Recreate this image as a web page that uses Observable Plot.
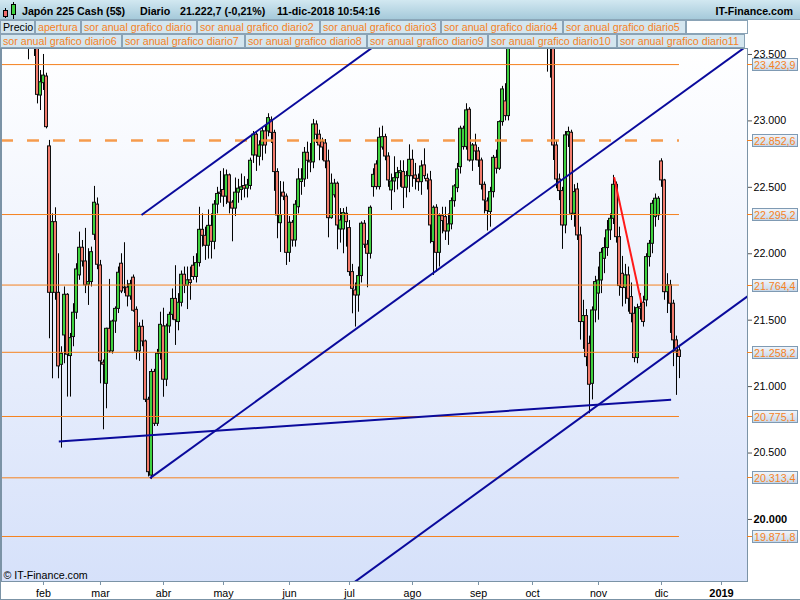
<!DOCTYPE html>
<html><head><meta charset="utf-8">
<script src="https://cdn.jsdelivr.net/npm/d3@7"></script>
<script src="https://cdn.jsdelivr.net/npm/@observablehq/plot@0.6"></script>
<style>
body{margin:0;background:#fff;font-family:"Liberation Sans",Arial,sans-serif;}
#wrap{position:relative;width:800px;height:600px;overflow:hidden;}
#wrap svg{display:block;}
</style></head><body><div id="wrap"></div>
<script>
// ---------- data ----------
const headerTexts = ["Japón 225 Cash (5$)", "Diario", "21.222,7 (-0,21%)", "11-dic-2018 10:54:16"];
const siteName = "IT-Finance.com";
const copyright = "© IT-Finance.com";
const legendRow1 = ["Precio","apertura","sor anual grafico diario","sor anual grafico diario2","sor anual grafico diario3","sor anual grafico diario4","sor anual grafico diario5",""];
const legendRow2 = ["sor anual grafico diario6","sor anual grafico diario7","sor anual grafico diario8","sor anual grafico diario9","sor anual grafico diario10","sor anual grafico diario11"];

const monthTicks = [19,38,59,79,101,121,142,164,182,204,225,245];
const monthLabels = ["feb","mar","abr","may","jun","jul","ago","sep","oct","nov","dic","2019"];
const priceTicks = [20000,20500,21000,21500,22000,22500,23000,23500];
const levelValues = [23423.9, 22295.2, 21764.4, 21258.2, 20775.1, 20313.4, 19871.8];
const dashedLevel = 22852.6;

// trend lines, in (trading-day index, price)
const blueLines = [
  {x1: 51.67, y1: 22292, x2: 128.67, y2: 23553},
  {x1: 54.5,  y1: 20311, x2: 253.67, y2: 23568},
  {x1: 120,   y1: 19485, x2: 253.67, y2: 21679},
  {x1: 24.1,  y1: 20587, x2: 228.2,  y2: 20901}
];
const redLines = [{x1: 209.2, y1: 22577, x2: 218.3, y2: 21630}];

// daily candles [open, high, low, close], first one at trading-day index 5
const firstIndex = 5;
const ohlc = [
[23700,23800,23620,23720],[23720,23830,23680,23760],[23760,24000,23700,23900],[23900,23950,23700,23800],
[23800,23900,23650,23780],[23780,23900,23700,23830],[23830,23900,23750,23850],[23850,24150,23820,24050],
[24050,24100,23850,23900],[23900,23950,23460,23650],[23650,23800,23600,23700],[23700,23750,23485,23600],
[23600,23650,23128,23196],[23191,23379,23078,23291],[23284,23500,23229,23341],[23334,23359,22940,22953],
[22808,22853,21360,21706],[21706,22300,21059,22238],[22238,22346,21650,21706],[21706,22000,21059,21152],
[21164,21300,20537,21247],[21385,21750,21172,21691],[21691,21700,20921,21240],[21230,21400,20921,21365],
[21373,21624,21300,21556],[21556,21925,21506,21882],[21837,22163,21800,22045],[22045,22100,21900,21942],
[21942,22191,21700,21762],[21767,22038,21611,21787],[21787,22050,21750,22012],[22143,22507,22100,22384],
[22370,22420,21880,21917],[21912,21950,21021,21190],[21180,21200,20675,21165],[21021,21440,20833,21435],
[21435,21807,21250,21265],[21265,21500,21245,21490],[21490,21600,21400,21585],[21585,21900,21550,21857],
[21925,22000,21700,21716],[21740,22083,21700,21745],[21745,21800,21600,21679],[21679,21800,21650,21770],
[21820,21840,21560,21571],[21578,21600,21200,21265],[21265,21480,21190,21450],[21450,21500,21300,21340],
[21340,21350,20880,20901],[20901,20920,20320,20356],[20330,21130,20300,21110],[21110,21130,20700,20720],
[20720,21280,20700,21247],[21247,21560,21200,21465],[21453,21590,20920,21052],[21052,21470,21000,21453],
[21453,21560,21400,21540],[21540,21735,21500,21660],[21660,21910,21310,21500],[21486,21700,21420,21631],
[21631,21870,21600,21842],[21842,21900,21700,21760],[21760,21900,21580,21800],[21800,21900,21650,21780],
[21910,21980,21800,21825],[21825,22000,21780,21930],[21930,22350,21900,22180],[22180,22300,22050,22135],
[22135,22200,21950,22060],[22060,22330,21960,22210],[22210,22300,21960,22090],[22090,22400,22030,22370],
[22370,22500,22300,22450],[22460,22620,22380,22450],[22480,22640,22350,22430],[22430,22630,22370,22590],
[22590,22600,22300,22385],[22385,22400,22090,22340],[22340,22570,22280,22460],[22460,22560,22380,22490],
[22480,22600,22400,22500],[22510,22580,22420,22490],[22490,22560,22420,22515],[22510,22720,22480,22700],
[22740,22920,22680,22896],[22896,22920,22620,22740],[22730,22850,22660,22815],[22815,22950,22700,22921],
[22921,22960,22750,22815],[22921,23054,22880,23021],[23005,23030,22830,22910],[22910,22930,22470,22615],
[22615,22640,22113,22288],[22230,22544,22010,22290],[22460,22540,22400,22430],[22430,22450,21912,22007],
[22007,22280,21935,22233],[22233,22250,22050,22100],[22100,22400,22050,22369],[22350,22640,22300,22559],
[22540,22640,22440,22559],[22559,22800,22500,22760],[22760,22840,22560,22700],[22700,22830,22610,22688],
[22688,23011,22640,22973],[22973,23000,22830,22896],[22896,22930,22700,22815],[22840,22870,22700,22800],
[22830,22860,22640,22695],[22695,22780,22120,22268],[22268,22600,22260,22527],[22440,22560,22420,22527],
[22527,22540,22030,22213],[22183,22340,22080,22250],[22183,22340,22000,22306],[22301,22350,22050,22238],
[22193,22250,21830,21862],[21862,21920,21548,21736],[21724,21780,21448,21686],[21686,21900,21560,21832],
[21832,22240,21780,22226],[22226,22250,22040,22068],[22068,22100,21744,22000],[22000,22360,21960,22346],
[22502,22640,22426,22594],[22672,22700,22480,22502],[22502,22946,22480,22873],[22800,22960,22780,22878],
[22878,22900,22700,22732],[22732,22760,22500,22552],[22477,22600,22326,22544],[22544,22730,22460,22569],
[22569,22650,22480,22607],[22607,22700,22500,22622],[22615,22700,22340,22497],[22497,22620,22420,22584],
[22584,22820,22460,22707],[22707,22780,22500,22584],[22589,22680,22480,22564],[22564,22600,22470,22539],
[22539,22700,22440,22657],[22665,22790,22560,22584],[22564,22600,22480,22545],[22552,22620,22075,22213],
[22088,22360,21837,22346],[22346,22369,21862,22007],[22007,22300,21900,22283],[22283,22350,22150,22246],
[22276,22350,22100,22168],[22168,22300,22063,22221],[22221,22420,22180,22396],[22396,22520,22350,22507],
[22494,22680,22460,22635],[22652,22960,22600,22941],[22803,22960,22780,22941],[22803,23129,22780,23079],
[23084,23100,22690,22702],[22702,22830,22620,22815],[22815,22900,22700,22770],[22770,22800,22650,22702],
[22702,22720,22480,22519],[22519,22540,22300,22401],[22394,22420,22171,22321],[22314,22500,22200,22464],
[22464,22740,22420,22722],[22722,22780,22600,22640],[22640,23000,22627,22991],[22991,23260,22960,23237],
[23147,23280,23000,23036],[23036,23700,23000,23600],[23600,23750,23550,23700],[23700,23800,23600,23750],
[23750,23900,23650,23850],[23850,24000,23800,23950],[23950,24050,23850,24000],[24000,24100,23700,23800],
[23800,24150,23750,24100],[24100,24300,24050,24250],[24250,24350,24100,24150],[24150,24200,23900,23950],
[23950,24000,23700,23750],[23750,23800,23550,23700],[23700,23800,23367,23600],[23600,23700,23322,23580],
[23580,23620,22702,22815],[22815,22850,22489,22559],[22559,22600,22400,22472],[22472,22500,22033,22213],
[22213,22920,22150,22891],[22891,22953,22800,22916],[22911,22930,22250,22301],[22301,22520,22200,22464],
[22484,22530,22100,22138],[22138,22200,21350,21486],[21486,21650,21280,21531],[21531,21580,21150,21222],
[21322,21380,20796,21014],[21021,21600,20900,21573],[21573,21830,21480,21787],[21700,21900,21500,21799],
[21799,22040,21700,22007],[21962,22120,21850,22043],[22043,22250,21980,22176],[22176,22300,22100,22263],
[22263,22590,22220,22519],[22519,22540,22080,22125],[22125,22200,21680,21757],[21849,21980,21600,21742],
[21742,21920,21620,21837],[21837,21900,21560,21661],[21674,21780,21480,21548],[21548,21600,21180,21215],
[21215,21620,21172,21591],[21598,21700,21500,21586],[21631,21680,21448,21486],[21649,22000,21600,21975],
[21975,22100,21900,22075],[22075,22400,22000,22376],[22276,22450,22200,22414],[22288,22430,22250,22414],
[22695,22715,22500,22552],[22552,22560,21650,21711],[21711,21850,21550,21762],[21762,21800,21400,21624],
[21624,21650,21150,21348],[21348,21380,20934,21265],[21272,21310,21060,21223]
];

// ---------- helpers ----------
const FONT = "'Liberation Sans', Arial, sans-serif";
const ORANGE = "#f5821f";
const dots = s => s.replace(/\B(?=(\d{3})+(?!\d))/g, ".");
const fmtInt = v => dots(String(Math.round(v)));
const fmtDec = v => { const [a,b] = v.toFixed(1).split("."); return dots(a) + "," + b; };

const candles = ohlc.map((d,k) => ({i: firstIndex + k, o: d[0], h: d[1], l: d[2], c: d[3]}));
const lastIdx = firstIndex + ohlc.length - 1;
const wrap = d3.select("#wrap");

// ---------- header + legend ----------
const hs = wrap.append("svg").attr("width",800).attr("height",48)
  .style("font-family",FONT);
const hd = hs.append("defs");
const hg = hd.append("linearGradient").attr("id","hdrBg").attr("x1",0).attr("y1",0).attr("x2",0).attr("y2",1);
hg.append("stop").attr("offset",0).attr("stop-color","#d2e8f1");
hg.append("stop").attr("offset",1).attr("stop-color","#a3c8d9");
hs.append("rect").attr("x",0).attr("y",0).attr("width",800).attr("height",20).attr("fill","url(#hdrBg)");
hs.append("line").attr("x1",0).attr("x2",800).attr("y1",19.5).attr("y2",19.5).attr("stroke","#8ba6b8");
// icon
hs.append("line").attr("x1",5.5).attr("x2",5.5).attr("y1",8).attr("y2",18).attr("stroke","#000");
hs.append("rect").attr("x",3.5).attr("y",10.5).attr("width",4).attr("height",6).attr("fill","#ee6a6a").attr("stroke","#000");
hs.append("line").attr("x1",13.5).attr("x2",13.5).attr("y1",2).attr("y2",19).attr("stroke","#000");
hs.append("rect").attr("x",11.5).attr("y",4.5).attr("width",4).attr("height",10).attr("fill","#3fd13f").attr("stroke","#000");
const headerX = [22, 140, 180, 277];
headerTexts.forEach((t,k) => hs.append("text").attr("x",headerX[k]).attr("y",15)
  .attr("font-size","10.67px").attr("font-weight","bold").attr("fill","#000").text(t));
hs.append("text").attr("x",793).attr("y",15).attr("text-anchor","end")
  .attr("font-size","10.67px").attr("font-weight","bold").attr("fill","#000").text(siteName);
const row1Edges = [0,35,81,197,320,441,563,686,748];
const row2Edges = [0,122,245,367,488,617,745];
function legendRow(labels, edges, top) {
  labels.forEach((t,k) => {
    const x0 = edges[k], x1 = edges[k+1];
    hs.append("rect").attr("x",x0+0.5).attr("y",top+0.5).attr("width",x1-x0-1).attr("height",13)
      .attr("fill", t === "" ? "#ffffff" : "#d4e6ef").attr("stroke","#8aa3b6");
    if (t !== "") hs.append("text").attr("x",x0+3).attr("y",top+11).attr("font-size","10.67px")
      .attr("fill", k === 0 && top === 20 ? "#000" : ORANGE).text(t);
  });
}
legendRow(legendRow1, row1Edges, 20);
legendRow(legendRow2, row2Edges, 34);

// ---------- chart ----------
const plot = Plot.plot({
  width: 800, height: 552,
  marginTop: 0, marginLeft: 1, marginRight: 53, marginBottom: 19,
  style: {fontFamily: FONT, fontSize: "10.67px", background: "transparent", color: "#000", overflow: "visible"},
  x: {type: "linear", domain: [5, 253.667]},
  y: {type: "linear", domain: [19533, 23545]},
  marks: [
    Plot.frame({fill: "url(#plotBg)", stroke: "none"}),
    Plot.ruleX(candles, {x: "i", y1: "l", y2: "h", stroke: "#000", strokeWidth: 1, clip: true}),
    Plot.rect(candles, {x1: d => d.i - 0.5, x2: d => d.i + 0.5, y1: "o", y2: "c",
      fill: d => d.c >= d.o ? "#3fd23f" : "#f27b6c", stroke: "#111", strokeWidth: 1, clip: true}),
    Plot.ruleY(levelValues, {x1: 5, x2: lastIdx, stroke: ORANGE, strokeWidth: 1}),
    Plot.ruleY([dashedLevel], {x1: 5, x2: lastIdx, stroke: "#f5903a", strokeWidth: 2.5, strokeDasharray: "12,14", strokeOpacity: 0.9}),
    Plot.link(blueLines, {x1: "x1", y1: "y1", x2: "x2", y2: "y2", stroke: "#0a0a9c", strokeWidth: 2, clip: true}),
    Plot.link(redLines, {x1: "x1", y1: "y1", x2: "x2", y2: "y2", stroke: "#ff1a1a", strokeWidth: 2, clip: true}),
    Plot.text([copyright], {text: d => d, frameAnchor: "bottom-left", dx: 2, dy: -3, textAnchor: "start", lineAnchor: "bottom", fill: "#000"}),
    Plot.axisY(priceTicks, {anchor: "right", tickSize: 4, tickPadding: 2, tickFormat: fmtInt, label: null, stroke: "#555"}),
    Plot.axisX(monthTicks, {anchor: "bottom", tickSize: 4, tickPadding: 4, tickFormat: d => monthLabels[monthTicks.indexOf(d)], label: null, stroke: "#7b93a6"}),
    Plot.frame({stroke: "#7b93a6"})
  ]
});
wrap.node().appendChild(plot);

const svg = d3.select(plot);
const defs = svg.insert("defs", ":first-child");
const g1 = defs.append("linearGradient").attr("id","plotBg").attr("x1",0).attr("y1",0).attr("x2",0).attr("y2",1);
g1.append("stop").attr("offset",0).attr("stop-color","#ffffff");
g1.append("stop").attr("offset",1).attr("stop-color","#d6e1fa");
const g2 = defs.append("linearGradient").attr("id","lblBg").attr("x1",0).attr("y1",0).attr("x2",0).attr("y2",1);
g2.append("stop").attr("offset",0).attr("stop-color","#f2f6fb");
g2.append("stop").attr("offset",1).attr("stop-color","#c4d6e8");

svg.selectAll("text").filter(function(){ return this.textContent === "20.000" || this.textContent === "2019"; })
  .attr("font-weight","bold").style("font-size","11px");

// price-level labels on the right axis
const ys = plot.scale("y");
const lab = svg.append("g").attr("font-family", FONT).attr("font-size","10.67px").attr("text-anchor","start");
levelValues.concat([dashedLevel]).forEach(v => {
  const y = Math.round(ys.apply(v)) + 0.5;
  lab.append("line").attr("x1",747).attr("x2",752).attr("y1",y).attr("y2",y).attr("stroke",ORANGE);
  lab.append("rect").attr("x",752.5).attr("y",y-6).attr("width",45).attr("height",12)
    .attr("fill","url(#lblBg)").attr("stroke","#7f9ab3");
  lab.append("text").attr("x",754).attr("y",y+4).attr("text-anchor","start").attr("fill",ORANGE).text(fmtDec(v));
});
// outer borders
svg.append("line").attr("x1",0.5).attr("x2",0.5).attr("y1",0).attr("y2",552).attr("stroke","#7b93a6");
svg.append("line").attr("x1",0).attr("x2",800).attr("y1",551.5).attr("y2",551.5).attr("stroke","#7b93a6");
</script></body></html>
